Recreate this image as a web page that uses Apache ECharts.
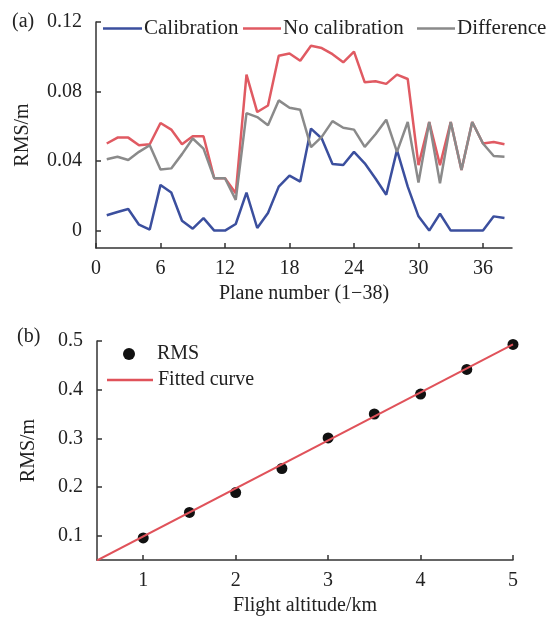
<!DOCTYPE html>
<html>
<head>
<meta charset="utf-8">
<script src="https://cdn.jsdelivr.net/npm/echarts@6/dist/echarts.min.js"></script>
<style>
  html, body { margin: 0; padding: 0; background: #fff; }
  #chart { width: 552px; height: 617px; }
</style>
</head>
<body>
<div id="chart"></div>
<script>
// (a) RMS of each plane
var planeNo = [1, 2, 3, 4, 5, 6, 7, 8, 9, 10, 11, 12, 13, 14, 15, 16, 17, 18, 19,
  20, 21, 22, 23, 24, 25, 26, 27, 28, 29, 30, 31, 32, 33, 34, 35, 36, 37, 38]
var calibration = [0.0088, 0.0107, 0.0124, 0.0034, 0.0006, 0.0263, 0.0219, 0.0057, 0.0011, 0.0072,
  0.0000, 0.0000, 0.0038, 0.0219, 0.0015, 0.0101, 0.0253, 0.0316, 0.0282, 0.0587,
  0.0530, 0.0383, 0.0377, 0.0453, 0.0387, 0.0300, 0.0206, 0.0463, 0.0253, 0.0082,
  0.0000, 0.0097, 0.0000, 0.0000, 0.0000, 0.0000, 0.0082, 0.0072]
var noCalibration = [0.0501, 0.0535, 0.0535, 0.0491, 0.0497, 0.0619, 0.0581, 0.0497, 0.0543, 0.0543,
  0.0301, 0.0301, 0.0215, 0.0897, 0.0682, 0.0720, 0.1006, 0.1019, 0.0977, 0.1063,
  0.1050, 0.1015, 0.0968, 0.1030, 0.0853, 0.0859, 0.0844, 0.0897, 0.0872, 0.0377,
  0.0625, 0.0377, 0.0625, 0.0349, 0.0625, 0.0501, 0.0510, 0.0497]
var difference = [0.0411, 0.0425, 0.0406, 0.0453, 0.0491, 0.0352, 0.0358, 0.0440, 0.0530, 0.0472,
  0.0301, 0.0301, 0.0177, 0.0676, 0.0653, 0.0606, 0.0749, 0.0707, 0.0695, 0.0480,
  0.0539, 0.0630, 0.0592, 0.0581, 0.0482, 0.0554, 0.0638, 0.0453, 0.0625, 0.0276,
  0.0625, 0.0272, 0.0625, 0.0349, 0.0625, 0.0501, 0.0429, 0.0425]
var topYTicks = [0, 0.04, 0.08, 0.12]

// (b) RMS vs flight altitude
var altitude = [1, 1.5, 2, 2.5, 3, 3.5, 4, 4.5, 5]
var rms = [0.0953, 0.1478, 0.1886, 0.238, 0.3008, 0.350, 0.391, 0.4416, 0.493]
var fitX = [0.5, 5]
var fitY = [0.049, 0.493]
var bottomXTicks = [1, 2, 3, 4, 5]
var bottomYTicks = [0.1, 0.2, 0.3, 0.4, 0.5]

var font = 'Liberation Serif'
var axisColor = '#333'
var textColor = '#222'

function pairs(xs, ys) {
  return xs.map(function (x, i) { return [x, ys[i]] })
}

var chart = echarts.init(document.getElementById('chart'))

var baseAxis = {
  axisLine: { show: true, onZero: false, lineStyle: { color: axisColor, width: 1.5 } },
  axisTick: { show: true, inside: true, length: 5, lineStyle: { color: axisColor, width: 1.5 } },
  splitLine: { show: false },
  nameLocation: 'middle',
  nameTextStyle: { fontFamily: font, fontSize: 20, color: textColor }
}

function axis(extra) {
  var a = JSON.parse(JSON.stringify(baseAxis))
  for (var k in extra) a[k] = extra[k]
  return a
}

// one legend per entry, so each can sit where the reference puts it
function lineLegend(name, left, top, w, fs) {
  return {
    left: left, top: top, icon: 'rect',
    itemWidth: w, itemHeight: 2.5,
    textStyle: { fontFamily: font, fontSize: fs, color: textColor, padding: [0, 0, 0, -3] },
    data: [name]
  }
}

var option = {
  animation: false,
  backgroundColor: '#fff',
  textStyle: { fontFamily: font },
  graphic: [
    { type: 'text', left: 12, top: 12, style: { text: '(a)', font: '20px "Liberation Serif"', fill: textColor } },
    { type: 'text', left: 17, top: 327, style: { text: '(b)', font: '20px "Liberation Serif"', fill: textColor } }
  ],
  legend: [
    lineLegend('Calibration', 98, 13, 39, 21),
    lineLegend('No calibration', 238, 13, 38, 21),
    lineLegend('Difference', 412, 13, 38, 21),
    {
      left: 118, top: 339,
      icon: 'circle', itemWidth: 46, itemHeight: 12,
      textStyle: { fontFamily: font, fontSize: 20, color: textColor },
      data: ['RMS']
    },
    {
      left: 102, top: 365, icon: 'rect',
      itemWidth: 46, itemHeight: 2.5,
      textStyle: { fontFamily: font, fontSize: 20, color: textColor },
      data: ['Fitted curve']
    }
  ],
  grid: [
    { left: 96, right: 40, top: 22, bottom: 369 },
    { left: 97, right: 39, top: 341, bottom: 55 }
  ],
  xAxis: [
    axis({
      gridIndex: 0, type: 'value', min: 0, max: 38.7, interval: 6,
      name: 'Plane number (1\u221238)', nameGap: 36,
      axisLabel: { fontFamily: font, fontSize: 20, color: textColor, margin: 11,
        showMaxLabel: false }
    }),
    axis({
      gridIndex: 1, type: 'value', min: 0.5, max: 5,
      name: 'Flight altitude/km', nameGap: 36,
      axisTick: { show: true, inside: true, length: 5, lineStyle: { color: axisColor, width: 1.5 },
        customValues: bottomXTicks },
      axisLabel: { fontFamily: font, fontSize: 20, color: textColor, margin: 11,
        customValues: bottomXTicks }
    })
  ],
  yAxis: [
    axis({
      gridIndex: 0, type: 'value', min: -0.01, max: 0.12,
      name: 'RMS/m', nameGap: 63,
      axisTick: { show: true, inside: true, length: 5, lineStyle: { color: axisColor, width: 1.5 },
        customValues: topYTicks },
      axisLabel: { fontFamily: font, fontSize: 20, color: textColor, margin: 14,
        customValues: topYTicks,
        formatter: function (v) { return v === 0 ? '0' : v.toFixed(2) } }
    }),
    axis({
      gridIndex: 1, type: 'value', min: 0.05, max: 0.5,
      name: 'RMS/m', nameGap: 58,
      axisTick: { show: true, inside: true, length: 5, lineStyle: { color: axisColor, width: 1.5 },
        customValues: bottomYTicks },
      axisLabel: { fontFamily: font, fontSize: 20, color: textColor, margin: 14,
        customValues: bottomYTicks,
        formatter: function (v) { return v.toFixed(1) } }
    })
  ],
  series: [
    {
      name: 'Calibration', type: 'line', xAxisIndex: 0, yAxisIndex: 0,
      showSymbol: false, symbol: 'none',
      lineStyle: { color: '#3b4f9e', width: 2.5 }, itemStyle: { color: '#3b4f9e' },
      data: pairs(planeNo, calibration)
    },
    {
      name: 'No calibration', type: 'line', xAxisIndex: 0, yAxisIndex: 0,
      showSymbol: false, symbol: 'none',
      lineStyle: { color: '#e05a62', width: 2.5 }, itemStyle: { color: '#e05a62' },
      data: pairs(planeNo, noCalibration)
    },
    {
      name: 'Difference', type: 'line', xAxisIndex: 0, yAxisIndex: 0,
      showSymbol: false, symbol: 'none',
      lineStyle: { color: '#8a8a8a', width: 2.5 }, itemStyle: { color: '#8a8a8a' },
      data: pairs(planeNo, difference)
    },
    {
      name: 'RMS', type: 'scatter', xAxisIndex: 1, yAxisIndex: 1,
      symbolSize: 11, z: 3,
      itemStyle: { color: '#111', opacity: 1 },
      data: pairs(altitude, rms)
    },
    {
      name: 'Fitted curve', type: 'line', xAxisIndex: 1, yAxisIndex: 1,
      showSymbol: false, symbol: 'none', z: 4,
      lineStyle: { color: '#e0525a', width: 2 }, itemStyle: { color: '#e0525a' },
      data: pairs(fitX, fitY)
    }
  ]
}

chart.setOption(option)
</script>
</body>
</html>
